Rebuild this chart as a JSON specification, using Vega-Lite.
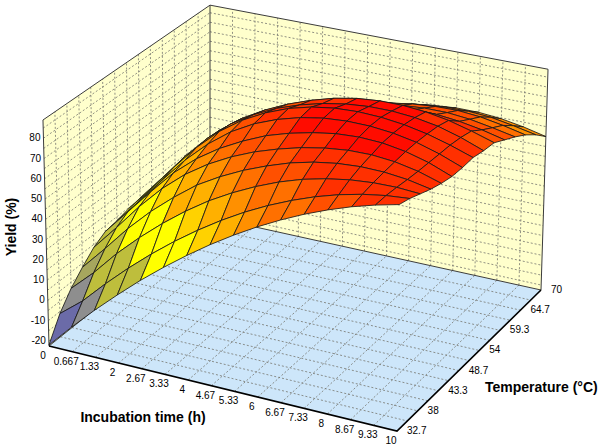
{
  "$schema": "https://vega.github.io/schema/vega-lite/v6.json",
  "description": "3D response surface: Yield (%) vs incubation time and temperature, drawn through an oblique projection.",
  "width": 600,
  "height": 446,
  "autosize": "none",
  "padding": 0,
  "config": {"view": {"stroke": null}},
  "datasets": {
    "surf": [
      {"t":0,"T":70,"y":12},{"t":0.667,"T":70,"y":22},{"t":1.333,"T":70,"y":29},{"t":2,"T":70,"y":35},{"t":2.667,"T":70,"y":40},{"t":3.333,"T":70,"y":44.5},{"t":4,"T":70,"y":48.5},{"t":4.667,"T":70,"y":52},{"t":5.333,"T":70,"y":55},{"t":6,"T":70,"y":57.5},{"t":6.667,"T":70,"y":59.5},{"t":7.333,"T":70,"y":60.5},{"t":8,"T":70,"y":60.5},{"t":8.667,"T":70,"y":59.5},{"t":9.333,"T":70,"y":57.6},{"t":10,"T":70,"y":55},
      {"t":0,"T":67.34,"y":12},{"t":0.667,"T":67.34,"y":23},{"t":1.333,"T":67.34,"y":31.5},{"t":2,"T":67.34,"y":38.3},{"t":2.667,"T":67.34,"y":43.8},{"t":3.333,"T":67.34,"y":48.8},{"t":4,"T":67.34,"y":53},{"t":4.667,"T":67.34,"y":56.8},{"t":5.333,"T":67.34,"y":60},{"t":6,"T":67.34,"y":62.6},{"t":6.667,"T":67.34,"y":64.4},{"t":7.333,"T":67.34,"y":65.4},{"t":8,"T":67.34,"y":65.6},{"t":8.667,"T":67.34,"y":64.8},{"t":9.333,"T":67.34,"y":62.8},{"t":10,"T":67.34,"y":60.5},
      {"t":0,"T":64.67,"y":12},{"t":0.667,"T":64.67,"y":24},{"t":1.333,"T":64.67,"y":34},{"t":2,"T":64.67,"y":41.5},{"t":2.667,"T":64.67,"y":47.5},{"t":3.333,"T":64.67,"y":53},{"t":4,"T":64.67,"y":57.5},{"t":4.667,"T":64.67,"y":61.5},{"t":5.333,"T":64.67,"y":64.8},{"t":6,"T":64.67,"y":67.5},{"t":6.667,"T":64.67,"y":69.3},{"t":7.333,"T":64.67,"y":70.3},{"t":8,"T":64.67,"y":70.5},{"t":8.667,"T":64.67,"y":69.5},{"t":9.333,"T":64.67,"y":67.5},{"t":10,"T":64.67,"y":65},
      {"t":0,"T":62.01,"y":12},{"t":0.667,"T":62.01,"y":24},{"t":1.333,"T":62.01,"y":35},{"t":2,"T":62.01,"y":44.3},{"t":2.667,"T":62.01,"y":51.3},{"t":3.333,"T":62.01,"y":57},{"t":4,"T":62.01,"y":61.8},{"t":4.667,"T":62.01,"y":65.8},{"t":5.333,"T":62.01,"y":68.9},{"t":6,"T":62.01,"y":71.4},{"t":6.667,"T":62.01,"y":73},{"t":7.333,"T":62.01,"y":73.9},{"t":8,"T":62.01,"y":73.9},{"t":8.667,"T":62.01,"y":72.8},{"t":9.333,"T":62.01,"y":70.8},{"t":10,"T":62.01,"y":68.5},
      {"t":0,"T":59.34,"y":12},{"t":0.667,"T":59.34,"y":24},{"t":1.333,"T":59.34,"y":36},{"t":2,"T":59.34,"y":47},{"t":2.667,"T":59.34,"y":55},{"t":3.333,"T":59.34,"y":61},{"t":4,"T":59.34,"y":66},{"t":4.667,"T":59.34,"y":70},{"t":5.333,"T":59.34,"y":73},{"t":6,"T":59.34,"y":75.3},{"t":6.667,"T":59.34,"y":76.8},{"t":7.333,"T":59.34,"y":77.5},{"t":8,"T":59.34,"y":77.4},{"t":8.667,"T":59.34,"y":76.2},{"t":9.333,"T":59.34,"y":74.2},{"t":10,"T":59.34,"y":71.5},
      {"t":0,"T":56.68,"y":15},{"t":0.667,"T":56.68,"y":28.5},{"t":1.333,"T":56.68,"y":41.5},{"t":2,"T":56.68,"y":53},{"t":2.667,"T":56.68,"y":61.5},{"t":3.333,"T":56.68,"y":68},{"t":4,"T":56.68,"y":73.3},{"t":4.667,"T":56.68,"y":77.5},{"t":5.333,"T":56.68,"y":80.8},{"t":6,"T":56.68,"y":83},{"t":6.667,"T":56.68,"y":84},{"t":7.333,"T":56.68,"y":84},{"t":8,"T":56.68,"y":83},{"t":8.667,"T":56.68,"y":81},{"t":9.333,"T":56.68,"y":78},{"t":10,"T":56.68,"y":74.5},
      {"t":0,"T":54.01,"y":15.5},{"t":0.667,"T":54.01,"y":28.5},{"t":1.333,"T":54.01,"y":41.8},{"t":2,"T":54.01,"y":53.5},{"t":2.667,"T":54.01,"y":63},{"t":3.333,"T":54.01,"y":70},{"t":4,"T":54.01,"y":75.5},{"t":4.667,"T":54.01,"y":79.5},{"t":5.333,"T":54.01,"y":82.5},{"t":6,"T":54.01,"y":84.5},{"t":6.667,"T":54.01,"y":85.5},{"t":7.333,"T":54.01,"y":85.5},{"t":8,"T":54.01,"y":84.5},{"t":8.667,"T":54.01,"y":82.5},{"t":9.333,"T":54.01,"y":79.2},{"t":10,"T":54.01,"y":75},
      {"t":0,"T":51.35,"y":14.5},{"t":0.667,"T":51.35,"y":27},{"t":1.333,"T":51.35,"y":40.5},{"t":2,"T":51.35,"y":53},{"t":2.667,"T":51.35,"y":63.5},{"t":3.333,"T":51.35,"y":71.5},{"t":4,"T":51.35,"y":77.5},{"t":4.667,"T":51.35,"y":82},{"t":5.333,"T":51.35,"y":85},{"t":6,"T":51.35,"y":86.7},{"t":6.667,"T":51.35,"y":87.2},{"t":7.333,"T":51.35,"y":86.7},{"t":8,"T":51.35,"y":85.3},{"t":8.667,"T":51.35,"y":83},{"t":9.333,"T":51.35,"y":79.8},{"t":10,"T":51.35,"y":76},
      {"t":0,"T":48.69,"y":13},{"t":0.667,"T":48.69,"y":25.5},{"t":1.333,"T":48.69,"y":38.5},{"t":2,"T":48.69,"y":51},{"t":2.667,"T":48.69,"y":61.5},{"t":3.333,"T":48.69,"y":70},{"t":4,"T":48.69,"y":76.3},{"t":4.667,"T":48.69,"y":80.8},{"t":5.333,"T":48.69,"y":84},{"t":6,"T":48.69,"y":86},{"t":6.667,"T":48.69,"y":86.8},{"t":7.333,"T":48.69,"y":86.6},{"t":8,"T":48.69,"y":85.4},{"t":8.667,"T":48.69,"y":83.2},{"t":9.333,"T":48.69,"y":79.8},{"t":10,"T":48.69,"y":75.5},
      {"t":0,"T":46.02,"y":12},{"t":0.667,"T":46.02,"y":24.5},{"t":1.333,"T":46.02,"y":37},{"t":2,"T":46.02,"y":49},{"t":2.667,"T":46.02,"y":58.5},{"t":3.333,"T":46.02,"y":66},{"t":4,"T":46.02,"y":72},{"t":4.667,"T":46.02,"y":77},{"t":5.333,"T":46.02,"y":80.5},{"t":6,"T":46.02,"y":83.1},{"t":6.667,"T":46.02,"y":84.9},{"t":7.333,"T":46.02,"y":85.5},{"t":8,"T":46.02,"y":84.9},{"t":8.667,"T":46.02,"y":83},{"t":9.333,"T":46.02,"y":79.9},{"t":10,"T":46.02,"y":75.5},
      {"t":0,"T":43.36,"y":8.5},{"t":0.667,"T":43.36,"y":21},{"t":1.333,"T":43.36,"y":34},{"t":2,"T":43.36,"y":45.5},{"t":2.667,"T":43.36,"y":55},{"t":3.333,"T":43.36,"y":62.5},{"t":4,"T":43.36,"y":68.5},{"t":4.667,"T":43.36,"y":73.3},{"t":5.333,"T":43.36,"y":77},{"t":6,"T":43.36,"y":80},{"t":6.667,"T":43.36,"y":82.1},{"t":7.333,"T":43.36,"y":83.3},{"t":8,"T":43.36,"y":83.4},{"t":8.667,"T":43.36,"y":82.3},{"t":9.333,"T":43.36,"y":80},{"t":10,"T":43.36,"y":76.5},
      {"t":0,"T":40.69,"y":3},{"t":0.667,"T":40.69,"y":15},{"t":1.333,"T":40.69,"y":27.5},{"t":2,"T":40.69,"y":38.5},{"t":2.667,"T":40.69,"y":48},{"t":3.333,"T":40.69,"y":56.5},{"t":4,"T":40.69,"y":63},{"t":4.667,"T":40.69,"y":68.5},{"t":5.333,"T":40.69,"y":73},{"t":6,"T":40.69,"y":76.8},{"t":6.667,"T":40.69,"y":79.5},{"t":7.333,"T":40.69,"y":81.2},{"t":8,"T":40.69,"y":81.9},{"t":8.667,"T":40.69,"y":81.6},{"t":9.333,"T":40.69,"y":80.3},{"t":10,"T":40.69,"y":78},
      {"t":0,"T":38.03,"y":-3},{"t":0.667,"T":38.03,"y":7.5},{"t":1.333,"T":38.03,"y":19.5},{"t":2,"T":38.03,"y":30},{"t":2.667,"T":38.03,"y":39.5},{"t":3.333,"T":38.03,"y":48},{"t":4,"T":38.03,"y":55.5},{"t":4.667,"T":38.03,"y":61.8},{"t":5.333,"T":38.03,"y":67.2},{"t":6,"T":38.03,"y":71.8},{"t":6.667,"T":38.03,"y":75.4},{"t":7.333,"T":38.03,"y":78},{"t":8,"T":38.03,"y":79.8},{"t":8.667,"T":38.03,"y":80.7},{"t":9.333,"T":38.03,"y":80.8},{"t":10,"T":38.03,"y":80},
      {"t":0,"T":35.36,"y":-11},{"t":0.667,"T":35.36,"y":-2},{"t":1.333,"T":35.36,"y":9.1},{"t":2,"T":35.36,"y":19.4},{"t":2.667,"T":35.36,"y":28.9},{"t":3.333,"T":35.36,"y":37.6},{"t":4,"T":35.36,"y":45.5},{"t":4.667,"T":35.36,"y":52.7},{"t":5.333,"T":35.36,"y":59.1},{"t":6,"T":35.36,"y":64.7},{"t":6.667,"T":35.36,"y":69.5},{"t":7.333,"T":35.36,"y":73.6},{"t":8,"T":35.36,"y":76.9},{"t":8.667,"T":35.36,"y":79.4},{"t":9.333,"T":35.36,"y":81.1},{"t":10,"T":35.36,"y":82},
      {"t":0,"T":32.7,"y":-22},{"t":0.667,"T":32.7,"y":-10.4},{"t":1.333,"T":32.7,"y":0.5},{"t":2,"T":32.7,"y":10.7},{"t":2.667,"T":32.7,"y":20.4},{"t":3.333,"T":32.7,"y":29.3},{"t":4,"T":32.7,"y":37.6},{"t":4.667,"T":32.7,"y":45.3},{"t":5.333,"T":32.7,"y":52.3},{"t":6,"T":32.7,"y":58.7},{"t":6.667,"T":32.7,"y":64.4},{"t":7.333,"T":32.7,"y":69.5},{"t":8,"T":32.7,"y":73.9},{"t":8.667,"T":32.7,"y":77.7},{"t":9.333,"T":32.7,"y":80.8},{"t":10,"T":32.7,"y":83.3}
    ],
    "box": [
      {"p":"floor","k":0,"t":0,"T":32.7,"y":-22.5},{"p":"floor","k":1,"t":10,"T":32.7,"y":-22.5},{"p":"floor","k":2,"t":10,"T":70,"y":-22.5},{"p":"floor","k":3,"t":0,"T":70,"y":-22.5},{"p":"floor","k":4,"t":0,"T":32.7,"y":-22.5},
      {"p":"left","k":0,"t":0,"T":32.7,"y":-22.5},{"p":"left","k":1,"t":0,"T":70,"y":-22.5},{"p":"left","k":2,"t":0,"T":70,"y":89},{"p":"left","k":3,"t":0,"T":32.7,"y":89},{"p":"left","k":4,"t":0,"T":32.7,"y":-22.5},
      {"p":"back","k":0,"t":0,"T":70,"y":-22.5},{"p":"back","k":1,"t":10,"T":70,"y":-22.5},{"p":"back","k":2,"t":10,"T":70,"y":89},{"p":"back","k":3,"t":0,"T":70,"y":89},{"p":"back","k":4,"t":0,"T":70,"y":-22.5}
    ],
    "edges": [
      {"e":"frame","k":0,"t":0,"T":32.7,"y":89},{"e":"frame","k":1,"t":0,"T":32.7,"y":-22.5},{"e":"frame","k":2,"t":0,"T":70,"y":-22.5},{"e":"frame","k":3,"t":10,"T":70,"y":-22.5},{"e":"frame","k":4,"t":10,"T":70,"y":89},{"e":"frame","k":5,"t":0,"T":70,"y":89},{"e":"frame","k":6,"t":0,"T":32.7,"y":89},
      {"e":"dv","k":0,"t":0,"T":70,"y":-22.5},{"e":"dv","k":1,"t":0,"T":70,"y":89},
      {"e":"front","k":0,"t":0,"T":32.7,"y":-22.5},{"e":"front","k":1,"t":10,"T":32.7,"y":-22.5},{"e":"front","k":2,"t":10,"T":70,"y":-22.5}
    ],
    "grid": [
      {"d":"t","v":0.667},{"d":"t","v":1.333},{"d":"t","v":2},{"d":"t","v":2.667},{"d":"t","v":3.333},{"d":"t","v":4},{"d":"t","v":4.667},{"d":"t","v":5.333},{"d":"t","v":6},{"d":"t","v":6.667},{"d":"t","v":7.333},{"d":"t","v":8},{"d":"t","v":8.667},{"d":"t","v":9.333},
      {"d":"T","v":35.36},{"d":"T","v":38.03},{"d":"T","v":40.69},{"d":"T","v":43.36},{"d":"T","v":46.02},{"d":"T","v":48.69},{"d":"T","v":51.35},{"d":"T","v":54.01},{"d":"T","v":56.68},{"d":"T","v":59.34},{"d":"T","v":62.01},{"d":"T","v":64.67},{"d":"T","v":67.34},
      {"d":"y","v":-20},{"d":"y","v":-15},{"d":"y","v":-10},{"d":"y","v":-5},{"d":"y","v":0},{"d":"y","v":5},{"d":"y","v":10},{"d":"y","v":15},{"d":"y","v":20},{"d":"y","v":25},{"d":"y","v":30},{"d":"y","v":35},{"d":"y","v":40},{"d":"y","v":45},{"d":"y","v":50},{"d":"y","v":55},{"d":"y","v":60},{"d":"y","v":65},{"d":"y","v":70},{"d":"y","v":75},{"d":"y","v":80},{"d":"y","v":85}
    ],
    "ticks": [
      {"ax":"y","v":-20,"lab":"-20"},{"ax":"y","v":-10,"lab":"-10"},{"ax":"y","v":0,"lab":"0"},{"ax":"y","v":10,"lab":"10"},{"ax":"y","v":20,"lab":"20"},{"ax":"y","v":30,"lab":"30"},{"ax":"y","v":40,"lab":"40"},{"ax":"y","v":50,"lab":"50"},{"ax":"y","v":60,"lab":"60"},{"ax":"y","v":70,"lab":"70"},{"ax":"y","v":80,"lab":"80"},
      {"ax":"t","v":0,"lab":"0"},{"ax":"t","v":0.667,"lab":"0.667"},{"ax":"t","v":1.333,"lab":"1.33"},{"ax":"t","v":2,"lab":"2"},{"ax":"t","v":2.667,"lab":"2.67"},{"ax":"t","v":3.333,"lab":"3.33"},{"ax":"t","v":4,"lab":"4"},{"ax":"t","v":4.667,"lab":"4.67"},{"ax":"t","v":5.333,"lab":"5.33"},{"ax":"t","v":6,"lab":"6"},{"ax":"t","v":6.667,"lab":"6.67"},{"ax":"t","v":7.333,"lab":"7.33"},{"ax":"t","v":8,"lab":"8"},{"ax":"t","v":8.667,"lab":"8.67"},{"ax":"t","v":9.333,"lab":"9.33"},{"ax":"t","v":10,"lab":"10"},
      {"ax":"T","v":32.7,"lab":"32.7"},{"ax":"T","v":38.03,"lab":"38"},{"ax":"T","v":43.36,"lab":"43.3"},{"ax":"T","v":48.69,"lab":"48.7"},{"ax":"T","v":54.01,"lab":"54"},{"ax":"T","v":59.34,"lab":"59.3"},{"ax":"T","v":64.67,"lab":"64.7"},{"ax":"T","v":70,"lab":"70"}
    ],
    "titles": [
      {"ax":"t","lab":"Incubation time (h)"},
      {"ax":"T","lab":"Temperature (°C)"},
      {"ax":"y","lab":"Yield (%)"}
    ]
  },
  "encoding": {
    "x": {"field": "sx", "type": "quantitative", "scale": {"domain": [0, 600], "range": [0, 600], "nice": false, "zero": false}, "axis": null},
    "y": {"field": "sy", "type": "quantitative", "scale": {"domain": [0, 446], "range": [0, 446], "nice": false, "zero": false}, "axis": null}
  },
  "layer": [
    {
      "data": {"name": "box"},
      "transform": [
        {"calculate": "datum.t/10", "as": "pu"},
        {"calculate": "(datum.T-32.7)/37.3", "as": "pv"},
        {"calculate": "datum.y+22.5", "as": "pw"},
        {"calculate": "49+348*datum.pu+161*datum.pv-17*datum.pu*datum.pv+(-0.054+0.074*datum.pu+0.054*datum.pv-0.011*datum.pu*datum.pv)*datum.pw", "as": "sx"},
        {"calculate": "346+85*datum.pu-129*datum.pv-12*datum.pu*datum.pv-(2.027+0.113*datum.pu-0.127*datum.pv-0.033*datum.pu*datum.pv)*datum.pw", "as": "sy"}
      ],
      "mark": {"type": "line", "strokeWidth": 0},
      "encoding": {
        "detail": {"field": "p"},
        "order": {"field": "k"},
        "fill": {"field": "p", "type": "nominal", "scale": {"domain": ["floor", "left", "back"], "range": ["#cde6fa", "#ffffcc", "#ffffcc"]}, "legend": null}
      }
    },
    {
      "data": {"name": "grid"},
      "transform": [
        {"calculate": "[0,1]", "as": "pl"},
        {"flatten": ["pl"]},
        {"calculate": "[0,1]", "as": "en"},
        {"flatten": ["en"]},
        {"calculate": "datum.d=='t' ? datum.v : datum.d=='T' ? (datum.pl==0 ? datum.en*10 : 0) : (datum.pl==0 ? 0 : datum.en*10)", "as": "t"},
        {"calculate": "datum.d=='T' ? datum.v : ((datum.d=='t' && datum.pl==1) || (datum.d=='y' && datum.pl==1)) ? 70 : 32.7+datum.en*37.3", "as": "T"},
        {"calculate": "datum.d=='y' ? datum.v : (datum.pl==1 ? -22.5+datum.en*111.5 : -22.5)", "as": "y"},
        {"calculate": "datum.d+'_'+datum.v+'_'+datum.pl", "as": "gid"},
        {"calculate": "datum.t/10", "as": "pu"},
        {"calculate": "(datum.T-32.7)/37.3", "as": "pv"},
        {"calculate": "datum.y+22.5", "as": "pw"},
        {"calculate": "49+348*datum.pu+161*datum.pv-17*datum.pu*datum.pv+(-0.054+0.074*datum.pu+0.054*datum.pv-0.011*datum.pu*datum.pv)*datum.pw", "as": "sx"},
        {"calculate": "346+85*datum.pu-129*datum.pv-12*datum.pu*datum.pv-(2.027+0.113*datum.pu-0.127*datum.pv-0.033*datum.pu*datum.pv)*datum.pw", "as": "sy"}
      ],
      "mark": {"type": "line", "stroke": "#76766f", "strokeWidth": 0.8, "strokeDash": [2, 2]},
      "encoding": {
        "detail": {"field": "gid"},
        "order": {"field": "en"}
      }
    },
    {
      "data": {"name": "edges"},
      "transform": [
        {"filter": "datum.e != 'front'"},
        {"calculate": "datum.t/10", "as": "pu"},
        {"calculate": "(datum.T-32.7)/37.3", "as": "pv"},
        {"calculate": "datum.y+22.5", "as": "pw"},
        {"calculate": "49+348*datum.pu+161*datum.pv-17*datum.pu*datum.pv+(-0.054+0.074*datum.pu+0.054*datum.pv-0.011*datum.pu*datum.pv)*datum.pw", "as": "sx"},
        {"calculate": "346+85*datum.pu-129*datum.pv-12*datum.pu*datum.pv-(2.027+0.113*datum.pu-0.127*datum.pv-0.033*datum.pu*datum.pv)*datum.pw", "as": "sy"}
      ],
      "mark": {"type": "line", "stroke": "#3c3c3c", "strokeWidth": 1},
      "encoding": {
        "detail": {"field": "e"},
        "order": {"field": "k"}
      }
    },
    {
      "data": {"name": "surf"},
      "transform": [
        {"calculate": "round(datum.t*1.5)", "as": "i"},
        {"calculate": "round((datum.T-32.7)*14/37.3)", "as": "j"},
        {"calculate": "[0,1,2,3,4]", "as": "corner"},
        {"flatten": ["corner"]},
        {"calculate": "datum.i-((datum.corner==1||datum.corner==2)?1:0)", "as": "ci"},
        {"calculate": "datum.j-((datum.corner==2||datum.corner==3)?1:0)", "as": "cj"},
        {"filter": "datum.ci>=0 && datum.ci<15 && datum.cj>=0 && datum.cj<14"},
        {"calculate": "datum.cj*100+datum.ci", "as": "cell"},
        {"calculate": "datum.corner<4 ? datum.y : null", "as": "yc"},
        {"joinaggregate": [{"op": "mean", "field": "yc", "as": "ym"}], "groupby": ["cell"]},
        {"calculate": "datum.t/10", "as": "pu"},
        {"calculate": "(datum.T-32.7)/37.3", "as": "pv"},
        {"calculate": "datum.y+22.5", "as": "pw"},
        {"calculate": "49+348*datum.pu+161*datum.pv-17*datum.pu*datum.pv+(-0.054+0.074*datum.pu+0.054*datum.pv-0.011*datum.pu*datum.pv)*datum.pw", "as": "sx"},
        {"calculate": "346+85*datum.pu-129*datum.pv-12*datum.pu*datum.pv-(2.027+0.113*datum.pu-0.127*datum.pv-0.033*datum.pu*datum.pv)*datum.pw", "as": "sy"}
      ],
      "mark": {"type": "line", "stroke": "#1a1a1a", "strokeWidth": 0.85, "strokeJoin": "round"},
      "encoding": {
        "detail": {"field": "cell"},
        "order": {"field": "corner"},
        "fill": {
          "field": "ym",
          "type": "quantitative",
          "scale": {
            "type": "threshold",
            "domain": [-10, 0, 8, 20, 26, 40, 48, 56, 64, 71, 77, 83],
            "range": ["#6b6ba8", "#8e8e8e", "#a6a65e", "#bebe3c", "#e6e61a", "#ffff00", "#ffd200", "#ffb000", "#ff9000", "#ff7000", "#ff5000", "#ff3000", "#ff0c00"]
          },
          "legend": null
        }
      }
    },
    {
      "data": {"name": "edges"},
      "transform": [
        {"filter": "datum.e == 'front'"},
        {"calculate": "datum.t/10", "as": "pu"},
        {"calculate": "(datum.T-32.7)/37.3", "as": "pv"},
        {"calculate": "datum.y+22.5", "as": "pw"},
        {"calculate": "49+348*datum.pu+161*datum.pv-17*datum.pu*datum.pv+(-0.054+0.074*datum.pu+0.054*datum.pv-0.011*datum.pu*datum.pv)*datum.pw", "as": "sx"},
        {"calculate": "346+85*datum.pu-129*datum.pv-12*datum.pu*datum.pv-(2.027+0.113*datum.pu-0.127*datum.pv-0.033*datum.pu*datum.pv)*datum.pw", "as": "sy"}
      ],
      "mark": {"type": "line", "stroke": "#000000", "strokeWidth": 1.6},
      "encoding": {
        "detail": {"field": "e"},
        "order": {"field": "k"}
      }
    },
    {
      "data": {"name": "ticks"},
      "transform": [
        {"filter": "datum.ax == 'y'"},
        {"calculate": "0", "as": "t"},
        {"calculate": "32.7", "as": "T"},
        {"calculate": "datum.v", "as": "y"},
        {"calculate": "datum.t/10", "as": "pu"},
        {"calculate": "(datum.T-32.7)/37.3", "as": "pv"},
        {"calculate": "datum.y+22.5", "as": "pw"},
        {"calculate": "49+348*datum.pu+161*datum.pv-17*datum.pu*datum.pv+(-0.054+0.074*datum.pu+0.054*datum.pv-0.011*datum.pu*datum.pv)*datum.pw", "as": "sx"},
        {"calculate": "346+85*datum.pu-129*datum.pv-12*datum.pu*datum.pv-(2.027+0.113*datum.pu-0.127*datum.pv-0.033*datum.pu*datum.pv)*datum.pw", "as": "sy"}
      ],
      "mark": {"type": "text", "align": "right", "baseline": "middle", "dx": -3, "font": "Liberation Sans", "fontSize": 10, "color": "#000000"},
      "encoding": {"text": {"field": "lab"}}
    },
    {
      "data": {"name": "ticks"},
      "transform": [
        {"filter": "datum.ax == 't'"},
        {"calculate": "datum.v", "as": "t"},
        {"calculate": "32.7", "as": "T"},
        {"calculate": "-22.5", "as": "y"},
        {"calculate": "datum.t/10", "as": "pu"},
        {"calculate": "(datum.T-32.7)/37.3", "as": "pv"},
        {"calculate": "datum.y+22.5", "as": "pw"},
        {"calculate": "49+348*datum.pu+161*datum.pv-17*datum.pu*datum.pv+(-0.054+0.074*datum.pu+0.054*datum.pv-0.011*datum.pu*datum.pv)*datum.pw", "as": "sx"},
        {"calculate": "346+85*datum.pu-129*datum.pv-12*datum.pu*datum.pv-(2.027+0.113*datum.pu-0.127*datum.pv-0.033*datum.pu*datum.pv)*datum.pw", "as": "sy"}
      ],
      "mark": {"type": "text", "align": "center", "baseline": "middle", "dx": -6, "dy": 10, "font": "Liberation Sans", "fontSize": 10, "color": "#000000"},
      "encoding": {"text": {"field": "lab"}}
    },
    {
      "data": {"name": "ticks"},
      "transform": [
        {"filter": "datum.ax == 'T'"},
        {"calculate": "10", "as": "t"},
        {"calculate": "datum.v", "as": "T"},
        {"calculate": "-22.5", "as": "y"},
        {"calculate": "datum.t/10", "as": "pu"},
        {"calculate": "(datum.T-32.7)/37.3", "as": "pv"},
        {"calculate": "datum.y+22.5", "as": "pw"},
        {"calculate": "49+348*datum.pu+161*datum.pv-17*datum.pu*datum.pv+(-0.054+0.074*datum.pu+0.054*datum.pv-0.011*datum.pu*datum.pv)*datum.pw", "as": "sx"},
        {"calculate": "346+85*datum.pu-129*datum.pv-12*datum.pu*datum.pv-(2.027+0.113*datum.pu-0.127*datum.pv-0.033*datum.pu*datum.pv)*datum.pw", "as": "sy"}
      ],
      "mark": {"type": "text", "align": "left", "baseline": "middle", "dx": 10, "font": "Liberation Sans", "fontSize": 10, "color": "#000000"},
      "encoding": {"text": {"field": "lab"}}
    },
    {
      "data": {"name": "titles"},
      "transform": [
        {"filter": "datum.ax == 't'"},
        {"calculate": "2.5", "as": "t"},
        {"calculate": "32.7", "as": "T"},
        {"calculate": "-22.5", "as": "y"},
        {"calculate": "datum.t/10", "as": "pu"},
        {"calculate": "(datum.T-32.7)/37.3", "as": "pv"},
        {"calculate": "datum.y+22.5", "as": "pw"},
        {"calculate": "49+348*datum.pu+161*datum.pv-17*datum.pu*datum.pv+(-0.054+0.074*datum.pu+0.054*datum.pv-0.011*datum.pu*datum.pv)*datum.pw", "as": "sx"},
        {"calculate": "346+85*datum.pu-129*datum.pv-12*datum.pu*datum.pv-(2.027+0.113*datum.pu-0.127*datum.pv-0.033*datum.pu*datum.pv)*datum.pw", "as": "sy"}
      ],
      "mark": {"type": "text", "align": "center", "baseline": "middle", "dx": 7, "dy": 51, "font": "Liberation Sans", "fontSize": 14, "fontWeight": "bold", "color": "#000000"},
      "encoding": {"text": {"field": "lab"}}
    },
    {
      "data": {"name": "titles"},
      "transform": [
        {"filter": "datum.ax == 'T'"},
        {"calculate": "10", "as": "t"},
        {"calculate": "51.35", "as": "T"},
        {"calculate": "-22.5", "as": "y"},
        {"calculate": "datum.t/10", "as": "pu"},
        {"calculate": "(datum.T-32.7)/37.3", "as": "pv"},
        {"calculate": "datum.y+22.5", "as": "pw"},
        {"calculate": "49+348*datum.pu+161*datum.pv-17*datum.pu*datum.pv+(-0.054+0.074*datum.pu+0.054*datum.pv-0.011*datum.pu*datum.pv)*datum.pw", "as": "sx"},
        {"calculate": "346+85*datum.pu-129*datum.pv-12*datum.pu*datum.pv-(2.027+0.113*datum.pu-0.127*datum.pv-0.033*datum.pu*datum.pv)*datum.pw", "as": "sy"}
      ],
      "mark": {"type": "text", "align": "left", "baseline": "middle", "dx": 16, "dy": 27, "font": "Liberation Sans", "fontSize": 14, "fontWeight": "bold", "color": "#000000"},
      "encoding": {"text": {"field": "lab"}}
    },
    {
      "data": {"name": "titles"},
      "transform": [
        {"filter": "datum.ax == 'y'"},
        {"calculate": "0", "as": "t"},
        {"calculate": "32.7", "as": "T"},
        {"calculate": "36.2", "as": "y"},
        {"calculate": "datum.t/10", "as": "pu"},
        {"calculate": "(datum.T-32.7)/37.3", "as": "pv"},
        {"calculate": "datum.y+22.5", "as": "pw"},
        {"calculate": "49+348*datum.pu+161*datum.pv-17*datum.pu*datum.pv+(-0.054+0.074*datum.pu+0.054*datum.pv-0.011*datum.pu*datum.pv)*datum.pw", "as": "sx"},
        {"calculate": "346+85*datum.pu-129*datum.pv-12*datum.pu*datum.pv-(2.027+0.113*datum.pu-0.127*datum.pv-0.033*datum.pu*datum.pv)*datum.pw", "as": "sy"}
      ],
      "mark": {"type": "text", "align": "center", "baseline": "middle", "angle": 270, "dy": -34, "font": "Liberation Sans", "fontSize": 14, "fontWeight": "bold", "color": "#000000"},
      "encoding": {"text": {"field": "lab"}}
    }
  ]
}
